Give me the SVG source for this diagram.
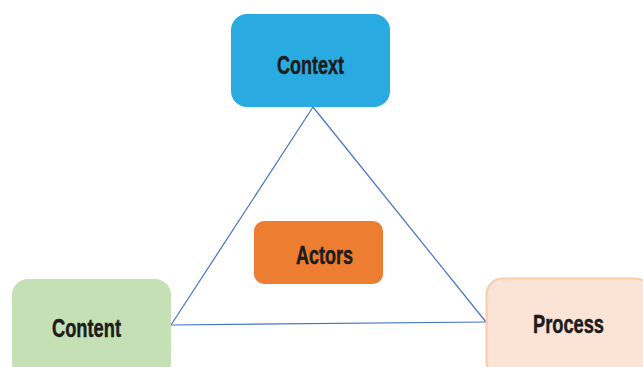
<svg xmlns="http://www.w3.org/2000/svg" width="643" height="367" viewBox="0 0 643 367">
  <style>
    .lbl { font-family: "Liberation Sans", Arial, sans-serif; font-weight: bold; font-size: 26px; fill: #1c1c1c; stroke: #1c1c1c; stroke-width: 0.5; text-anchor: middle; }
    .edge { stroke: #4472C4; stroke-width: 1.2; fill: none; }
  </style>
  <rect width="643" height="367" fill="#ffffff"/>
  <g id="connectors">
    <line class="edge" x1="313" y1="107" x2="171" y2="325"/>
    <line class="edge" x1="313" y1="107" x2="486" y2="322"/>
    <line class="edge" x1="171" y1="325" x2="486" y2="322"/>
  </g>
  <g id="context">
    <rect x="231" y="14" width="159" height="93" rx="16" fill="#29ABE2"/>
    <text class="lbl" x="310.5" y="74" textLength="67" lengthAdjust="spacingAndGlyphs">Context</text>
  </g>
  <g id="actors">
    <rect x="254" y="221" width="129" height="63" rx="10" fill="#ED7D31"/>
    <text class="lbl" x="324.5" y="264" textLength="57" lengthAdjust="spacingAndGlyphs">Actors</text>
  </g>
  <g id="content">
    <rect x="12" y="279" width="159" height="100" rx="16" fill="#C5E0B4"/>
    <text class="lbl" x="86.5" y="337" textLength="69" lengthAdjust="spacingAndGlyphs">Content</text>
  </g>
  <g id="process">
    <rect x="486.5" y="278.5" width="165" height="100" rx="16" fill="#FBE3D6" stroke="#F8CBAD" stroke-width="2"/>
    <text class="lbl" x="568.5" y="333" textLength="71" lengthAdjust="spacingAndGlyphs">Process</text>
  </g>
</svg>
